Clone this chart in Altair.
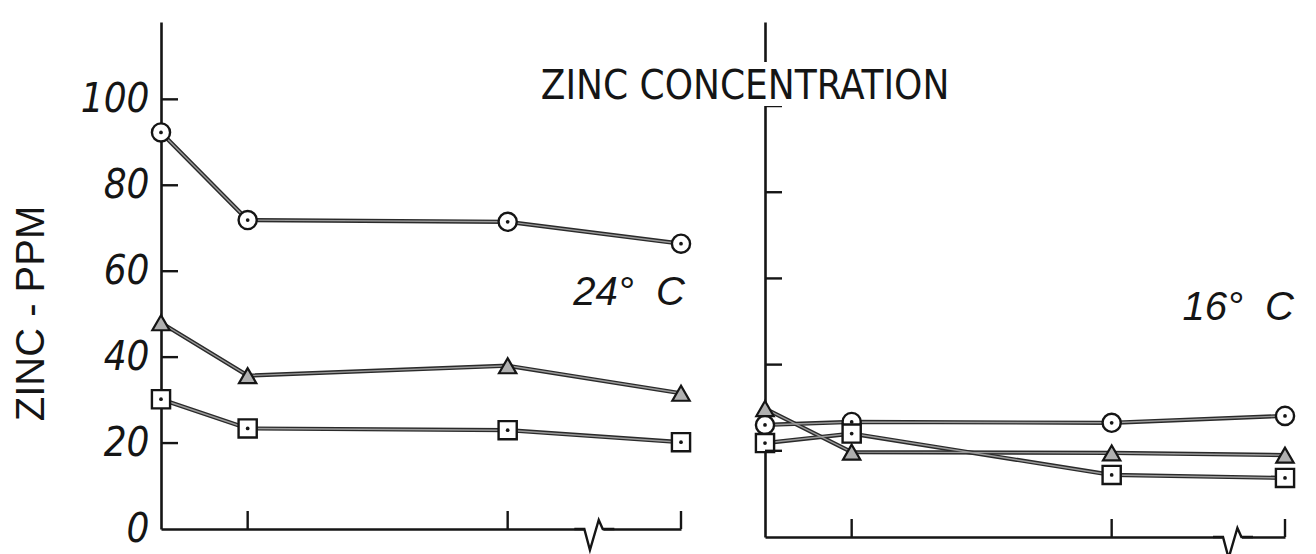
import altair as alt
import pandas as pd

# ---- data ----
X_POINTS = [0, 1, 4, 6]
SERIES = ["circle", "triangle", "square"]

LEFT_CIRCLE = [92.3, 71.9, 71.5, 66.4]
LEFT_TRIANGLE = [48.0, 35.7, 38.0, 31.6]
LEFT_SQUARE = [30.2, 23.4, 23.0, 20.2]

RIGHT_CIRCLE = [26.0, 26.7, 26.5, 28.1]
RIGHT_TRIANGLE = [29.8, 19.7, 19.5, 19.0]
RIGHT_SQUARE = [21.8, 24.0, 14.4, 13.7]

Y_TICK_LABELS = [0, 20, 40, 60, 80, 100]
Y_TICK_MARKS = [20, 40, 60, 80, 100]
X_TICK_MARKS = [1, 4, 6]

LEFT_BREAK = [5.0]
RIGHT_BREAK = [5.4]

TITLE = "ZINC CONCENTRATION"
Y_TITLE = "ZINC - PPM"
LEFT_LABEL = "24°\u00a0\u00a0C"
RIGHT_LABEL = "16°\u00a0\u00a0C"

INK = "#151515"
NARROW = "Liberation Sans Narrow, DejaVu Sans Condensed, Liberation Sans"
PLAIN = "Liberation Sans, DejaVu Sans"

ZIGZAG = "M -1 0 L -0.5 0 L -0.22 1.05 L 0.22 -0.45 L 0.42 0 L 1 0"
COVER = "M -0.52 -0.2 L 0.45 -0.2 L 0.45 0.2 L -0.52 0.2 Z"


def long_table(circle, tri, sq):
    rows = []
    for name, vals in zip(SERIES, [circle, tri, sq]):
        for xv, v in zip(X_POINTS, vals):
            rows.append({"series": name, "x": xv, "v": v})
    return pd.DataFrame(rows)


def panel(circle, tri, sq, width, height, ymax, left_axis, break_x, texts):
    df = long_table(circle, tri, sq)
    if left_axis:
        yaxis = alt.Axis(
            values=Y_TICK_LABELS, ticks=False, grid=False,
            domainColor=INK, domainWidth=2.6,
            labelFont=NARROW, labelFontSize=40, labelFontStyle="italic",
            labelColor=INK, labelPadding=12, labelFlush=False,
            title=Y_TITLE, titleFont=PLAIN, titleFontSize=40,
            titleFontWeight="normal", titleColor=INK, titleAngle=270,
            titleX=-130, titleY=291, titleAlign="center", titleBaseline="middle",
        )
    else:
        yaxis = alt.Axis(labels=False, ticks=False, grid=False, title=None,
                         domainColor=INK, domainWidth=2.6)
    xenc = alt.X("x:Q", scale=alt.Scale(domain=[0, 6], nice=False, zero=False),
                 axis=alt.Axis(labels=False, ticks=False, grid=False, title=None,
                               domainColor=INK, domainWidth=2.6))
    yenc = alt.Y("v:Q", scale=alt.Scale(domain=[0, ymax], nice=False),
                 axis=yaxis)

    base = alt.Chart(df).encode(x=xenc, y=yenc)
    outer = base.mark_line(color="#2a2a2a", strokeWidth=4.2).encode(detail="series:N")
    inner = base.mark_line(color="#9a9a9a", strokeWidth=1.4).encode(detail="series:N")

    circles = base.transform_filter(alt.datum.series == "circle").mark_point(
        shape="circle", filled=True, fill="white", stroke=INK, strokeWidth=2.4,
        size=330, opacity=1)
    tris = base.transform_filter(alt.datum.series == "triangle").mark_point(
        shape="triangle-up", filled=True, fill="#b0b0b0", stroke=INK,
        strokeWidth=2.2, size=300, opacity=1)
    squares = base.transform_filter(alt.datum.series == "square").mark_point(
        shape="square", filled=True, fill="white", stroke=INK, strokeWidth=2.4,
        size=330, opacity=1)
    dots = base.transform_filter(alt.datum.series != "triangle").mark_point(
        shape="circle", filled=True, color=INK, size=14, opacity=1)

    ytick_df = pd.DataFrame({"v": Y_TICK_MARKS})
    yticks = alt.Chart(ytick_df).mark_rule(color=INK, strokeWidth=2.4).encode(
        y=yenc, x=alt.value(0), x2=alt.value(17))
    xtick_df = pd.DataFrame({"x": X_TICK_MARKS})
    xticks = alt.Chart(xtick_df).mark_rule(color=INK, strokeWidth=2.4).encode(
        x=xenc, y=alt.value(height), y2=alt.value(height - 18))

    brk_df = pd.DataFrame({"x": break_x, "v": [0] * len(break_x)})
    cover = alt.Chart(brk_df).mark_point(
        shape=COVER, filled=True, fill="white", strokeWidth=0, size=1600,
        opacity=1).encode(x=xenc, y=yenc)
    zig = alt.Chart(brk_df).mark_point(
        shape=ZIGZAG, filled=False, stroke=INK, strokeWidth=2.4, size=1600,
        opacity=1).encode(x=xenc, y=yenc)

    layers = [outer, inner, circles, tris, squares, dots, yticks, xticks, cover, zig]
    for t in texts:
        tdf = pd.DataFrame({"x": [t["x"]], "v": [t["v"]], "label": [t["text"]]})
        if t.get("halo"):
            layers.append(alt.Chart(tdf).mark_text(
                font=t["font"], fontSize=t["size"], fill="white", stroke="white",
                strokeWidth=14, align="center", baseline="middle").encode(
                x=xenc, y=yenc, text="label:N"))
        layers.append(alt.Chart(tdf).mark_text(
            font=t["font"], fontSize=t["size"], color=INK, align="center",
            baseline="middle", fontStyle=t.get("style", "normal")).encode(
            x=xenc, y=yenc, text="label:N"))

    return alt.layer(*layers).properties(width=width, height=height)


left = panel(LEFT_CIRCLE, LEFT_TRIANGLE, LEFT_SQUARE, 520, 507, 118, True,
             LEFT_BREAK,
             [{"x": 5.4, "v": 54.9, "text": LEFT_LABEL, "font": PLAIN, "size": 40,
               "style": "italic"}])
right = panel(RIGHT_CIRCLE, RIGHT_TRIANGLE, RIGHT_SQUARE, 520, 515, 119.5, False,
              RIGHT_BREAK,
              [{"x": 5.46, "v": 53.1, "text": RIGHT_LABEL, "font": PLAIN, "size": 40,
                "style": "italic"},
               {"x": -0.23, "v": 104.4, "text": TITLE, "font": NARROW, "size": 40,
                "halo": True}])

chart = alt.hconcat(left, right, spacing=84, bounds="flush").properties(
    padding={"left": 3, "top": 14, "right": 0, "bottom": 0}
).configure(background="white").configure_view(stroke=None, strokeWidth=0)

chart.save("out.html", embed_options={"renderer": "svg", "actions": False})
